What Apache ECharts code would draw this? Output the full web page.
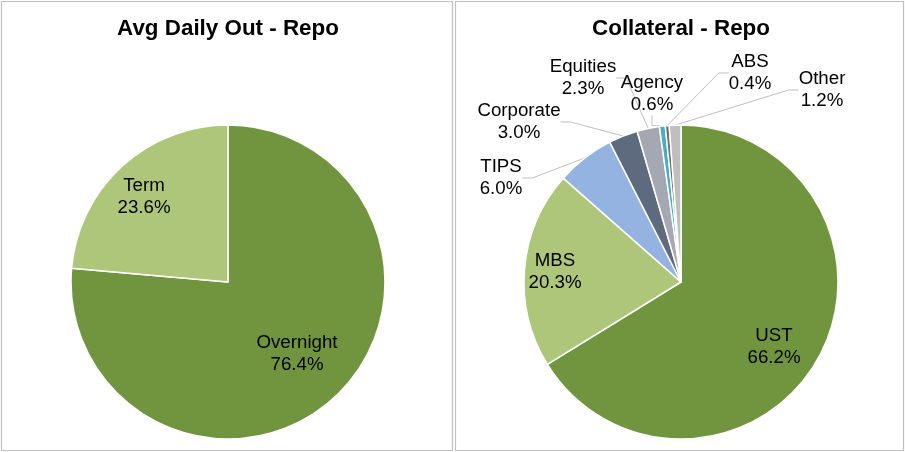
<!DOCTYPE html>
<html>
<head>
<meta charset="utf-8">
<script src="https://cdn.jsdelivr.net/npm/echarts@6/dist/echarts.min.js"></script>
<style>
  html, body { margin: 0; padding: 0; background: #fff; }
  #main { width: 905px; height: 452px; }
</style>
</head>
<body>
<div id="main"></div>
<script>
// Avg daily outstanding, by tenor (%)
var outNames = ["Overnight", "Term"];
var outValues = [76.4, 23.6];

// Collateral mix (%)
var collNames = ["UST", "MBS", "TIPS", "Corporate", "Equities", "Agency", "ABS", "Other"];
var collValues = [66.2, 20.3, 6.0, 3.0, 2.3, 0.6, 0.4, 1.2];

var outColors = ["#71953e", "#aec67a"];
var collColors = ["#71953e", "#aec67a", "#95b3e1", "#5e6b7e", "#a5a7b2", "#4bacc6", "#6e6e6e", "#bfbfbf"];

var FONT = "Liberation Sans, Arial, sans-serif";
var R = 157;
var centers = [[228, 282], [681, 282]];

// slices whose label sits on the slice itself
var insideNames = ["Overnight", "Term", "UST", "MBS"];
// label block centre, as offset from the pie centre
var labelSpot = {
  Overnight: [69, 72],
  Term: [-84, -85],
  UST: [93, 65],
  MBS: [-126, -10],
  TIPS: [-180, -104],
  Corporate: [-162, -160],
  Equities: [-98, -204],
  Agency: [-29, -188],
  ABS: [69, -209],
  Other: [141, -192]
};

function buildData(names, values, colors) {
  return names.map(function (n, i) {
    var inside = insideNames.indexOf(n) >= 0;
    return {
      name: n,
      value: values[i],
      itemStyle: { color: colors[i] },
      label: { position: inside ? "inside" : "outside" },
      labelLine: { show: !inside }
    };
  });
}

function pieSeries(idx, data) {
  return {
    type: "pie",
    center: centers[idx],
    radius: [0, R],
    startAngle: 90,
    clockwise: true,
    animation: false,
    avoidLabelOverlap: false,
    data: data,
    itemStyle: { borderColor: "#fff", borderWidth: 1.5 },
    label: {
      show: true,
      color: "#000",
      fontFamily: FONT,
      fontSize: 18.7,
      lineHeight: 21.5,
      align: "center",
      formatter: function (p) {
        return p.name + "\n" + p.value.toFixed(1) + "%";
      }
    },
    labelLine: {
      length: 10,
      length2: 10,
      lineStyle: { color: "#bfbfbf", width: 1 }
    },
    emphasis: { disabled: true },
    labelLayout: function (params) {
      var c = centers[params.seriesIndex];
      var name = (params.seriesIndex === 0 ? outNames : collNames)[params.dataIndex];
      var s = labelSpot[name];
      return {
        x: c[0] + s[0],
        y: c[1] + s[1],
        align: "center",
        verticalAlign: "middle"
      };
    }
  };
}

var chart = echarts.init(document.getElementById("main"), null, { renderer: "canvas" });
chart.setOption({
  backgroundColor: "#fff",
  graphic: [
    { type: "rect", shape: { x: 1.5, y: 1.5, width: 451, height: 449 }, style: { fill: null, stroke: "#c0c0c0", lineWidth: 1.2 } },
    { type: "rect", shape: { x: 455.5, y: 1.5, width: 448, height: 449 }, style: { fill: null, stroke: "#c0c0c0", lineWidth: 1.2 } },
    { type: "text", x: 228, y: 29, style: { text: "Avg Daily Out - Repo", font: "bold 22.4px " + FONT, fill: "#000", textAlign: "center", textVerticalAlign: "middle" } },
    { type: "text", x: 681, y: 29, style: { text: "Collateral - Repo", font: "bold 22.4px " + FONT, fill: "#000", textAlign: "center", textVerticalAlign: "middle" } }
  ],
  series: [
    pieSeries(0, buildData(outNames, outValues, outColors)),
    pieSeries(1, buildData(collNames, collValues, collColors))
  ]
});
</script>
</body>
</html>
